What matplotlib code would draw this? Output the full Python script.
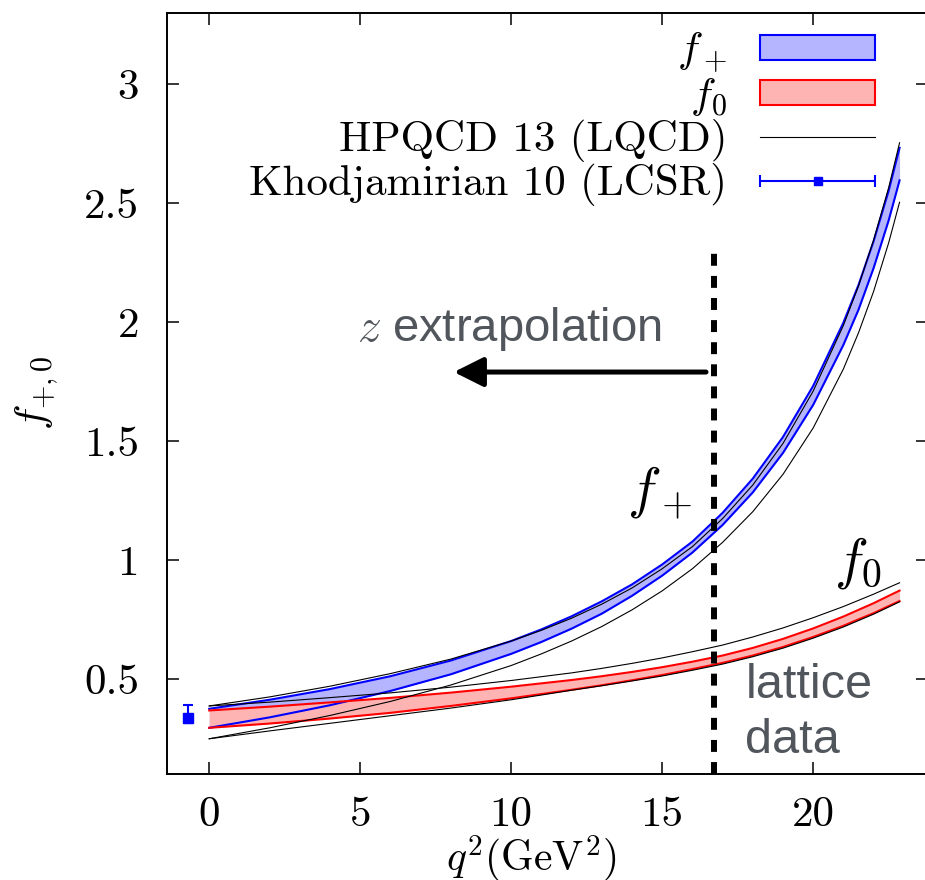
import numpy as np
import matplotlib
matplotlib.use('Agg')
import matplotlib.pyplot as plt
from matplotlib.patches import Patch
from matplotlib.lines import Line2D
from matplotlib.legend_handler import HandlerErrorbar
from matplotlib.container import ErrorbarContainer

plt.rcParams['font.family'] = 'serif'
plt.rcParams['font.serif'] = ['cmr10']
plt.rcParams['mathtext.fontset'] = 'cm'
plt.rcParams['axes.unicode_minus'] = False

# q^2 grid (GeV^2) and band edges
q2 = [0, 2, 4, 6, 8, 10, 11, 12, 13, 14, 15, 16, 17, 18, 19, 20, 21, 21.5, 22, 22.5, 22.86]

fplus_hi = [0.374, 0.412, 0.457, 0.511, 0.577, 0.659, 0.708, 0.763, 0.826, 0.897, 0.981,
            1.077, 1.198, 1.342, 1.517, 1.732, 1.998, 2.156, 2.340, 2.553, 2.733]
fplus_lo = [0.294, 0.338, 0.389, 0.449, 0.519, 0.605, 0.655, 0.711, 0.774, 0.849, 0.934,
            1.031, 1.147, 1.284, 1.450, 1.652, 1.904, 2.052, 2.227, 2.428, 2.596]
fzero_hi = [0.367, 0.383, 0.401, 0.420, 0.442, 0.467, 0.481, 0.495, 0.511, 0.529, 0.549,
            0.572, 0.598, 0.630, 0.668, 0.712, 0.762, 0.790, 0.818, 0.849, 0.871]
fzero_lo = [0.294, 0.312, 0.333, 0.357, 0.386, 0.418, 0.436, 0.454, 0.473, 0.494, 0.516,
            0.541, 0.567, 0.598, 0.634, 0.676, 0.723, 0.750, 0.776, 0.806, 0.827]

# HPQCD 13 (LQCD) error band edges
hpqcd_fplus_hi = [0.386, 0.424, 0.469, 0.522, 0.583, 0.659, 0.704, 0.755, 0.814, 0.882, 0.963,
                  1.056, 1.174, 1.315, 1.490, 1.710, 1.986, 2.152, 2.345, 2.566, 2.754]
hpqcd_fplus_lo = [0.248, 0.294, 0.346, 0.405, 0.474, 0.556, 0.605, 0.659, 0.720, 0.790, 0.870,
                  0.963, 1.074, 1.203, 1.360, 1.555, 1.803, 1.955, 2.129, 2.334, 2.504]
hpqcd_fzero_hi = [0.386, 0.402, 0.421, 0.441, 0.465, 0.493, 0.509, 0.525, 0.544, 0.565, 0.588,
                  0.614, 0.642, 0.676, 0.714, 0.757, 0.804, 0.830, 0.856, 0.884, 0.904]
hpqcd_fzero_lo = [0.248, 0.281, 0.313, 0.345, 0.377, 0.412, 0.432, 0.452, 0.471, 0.491, 0.512,
                  0.536, 0.562, 0.593, 0.629, 0.671, 0.718, 0.745, 0.772, 0.802, 0.824]

# Khodjamirian 10 (LCSR) point at q^2 = 0 (drawn slightly left)
lcsr_q2 = [-0.7]
lcsr_val = [0.337]
lcsr_err = [[0.021], [0.053]]

# start of lattice data region
lattice_q2 = 16.7
lattice_top = 2.30

xticks = [0, 5, 10, 15, 20]
xticklabels = ['0', '5', '10', '15', '20']
yticks = [0.5, 1, 1.5, 2, 2.5, 3]
yticklabels = ['0.5', '1', '1.5', '2', '2.5', '3']

blue_fill = '#b4b4ff'
red_fill = '#ffb4b4'
gray = '#51565d'

fig = plt.figure(figsize=(9.25, 8.8), dpi=100)
ax = fig.add_axes([0.1805, 0.1205, 0.8227, 0.8648])

ax.fill_between(q2, fplus_lo, fplus_hi, color=blue_fill, lw=0)
ax.plot(q2, fplus_hi, color='blue', lw=1.5)
ax.plot(q2, fplus_lo, color='blue', lw=1.5)
ax.fill_between(q2, fzero_lo, fzero_hi, color=red_fill, lw=0)
ax.plot(q2, fzero_hi, color='red', lw=1.5)
ax.plot(q2, fzero_lo, color='red', lw=1.5)

for c in [hpqcd_fplus_hi, hpqcd_fplus_lo, hpqcd_fzero_hi, hpqcd_fzero_lo]:
    ax.plot(q2, c, color='black', lw=0.8)

ax.errorbar(lcsr_q2, lcsr_val, yerr=lcsr_err, fmt='s', color='blue', ms=6.5,
            capsize=3.6, elinewidth=1.5, capthick=1.5)

ax.vlines(lattice_q2, 0.1, lattice_top, color='black', lw=4.3,
          linestyles=(0, (2.0, 1.7)))

ax.annotate('', xy=(8.1, 1.79), xytext=(16.45, 1.79),
            arrowprops=dict(arrowstyle='-|>,head_length=18,head_width=9',
                            mutation_scale=1, lw=3.6, color='black',
                            shrinkA=0, shrinkB=0))

ax.text(4.9, 1.92, r'$z$ extrapolation', family='Liberation Sans', fontsize=34,
        color=gray, ha='left', va='baseline')
ax.text(17.75, 0.42, 'lattice', family='Liberation Sans', fontsize=35,
        color=gray, ha='left', va='baseline')
ax.text(17.75, 0.19, 'data', family='Liberation Sans', fontsize=35,
        color=gray, ha='left', va='baseline')
ax.text(13.85, 1.222, r'$f_+$', fontsize=41, ha='left', va='baseline')
ax.text(20.7, 0.928, r'$f_0$', fontsize=41, ha='left', va='baseline')

ax.set_xlim(-1.4, 23.8)
ax.set_ylim(0.1, 3.3)
ax.set_xticks(xticks)
ax.set_xticklabels(xticklabels)
ax.set_yticks(yticks)
ax.set_yticklabels(yticklabels)
ax.tick_params(direction='in', length=8.6, width=1.1, top=True, right=True,
               labelsize=31)
ax.tick_params(axis='x', pad=16)
ax.tick_params(axis='y', pad=20)
for s in ax.spines.values():
    s.set_linewidth(1.4)

ax.set_xlabel(r'$q^2(\mathrm{GeV}^2)$', fontsize=30, va='top')
ax.xaxis.set_label_coords(0.478, -0.079)
ax.set_ylabel(r'$f_{+,0}$', fontsize=31)
ax.yaxis.set_label_coords(-0.14, 0.5)

# legend proxies
h1 = Patch(facecolor=blue_fill, edgecolor='blue', lw=1.5)
h2 = Patch(facecolor=red_fill, edgecolor='red', lw=1.5)
h3 = Line2D([], [], color='black', lw=0.8)
h4 = ax.errorbar([np.nan], [np.nan], xerr=[1.0], fmt='s', color='blue', ms=5.5,
                 capsize=4.3, elinewidth=1.5, capthick=1.5)
leg = ax.legend([h1, h2, h3, h4],
                [r'$f_+$', r'$f_0$', 'HPQCD 13 (LQCD)', 'Khodjamirian 10 (LCSR)'],
                loc='upper right', bbox_to_anchor=(0.946, 0.9652),
                bbox_transform=fig.transFigure, frameon=False, fontsize=31,
                markerfirst=False, handlelength=2.67, handleheight=0.49,
                handletextpad=0.77, labelspacing=0.02, borderpad=0, borderaxespad=0,
                handler_map={ErrorbarContainer: HandlerErrorbar(xerr_size=1.335)})

fig.savefig('out.png', dpi=100)
